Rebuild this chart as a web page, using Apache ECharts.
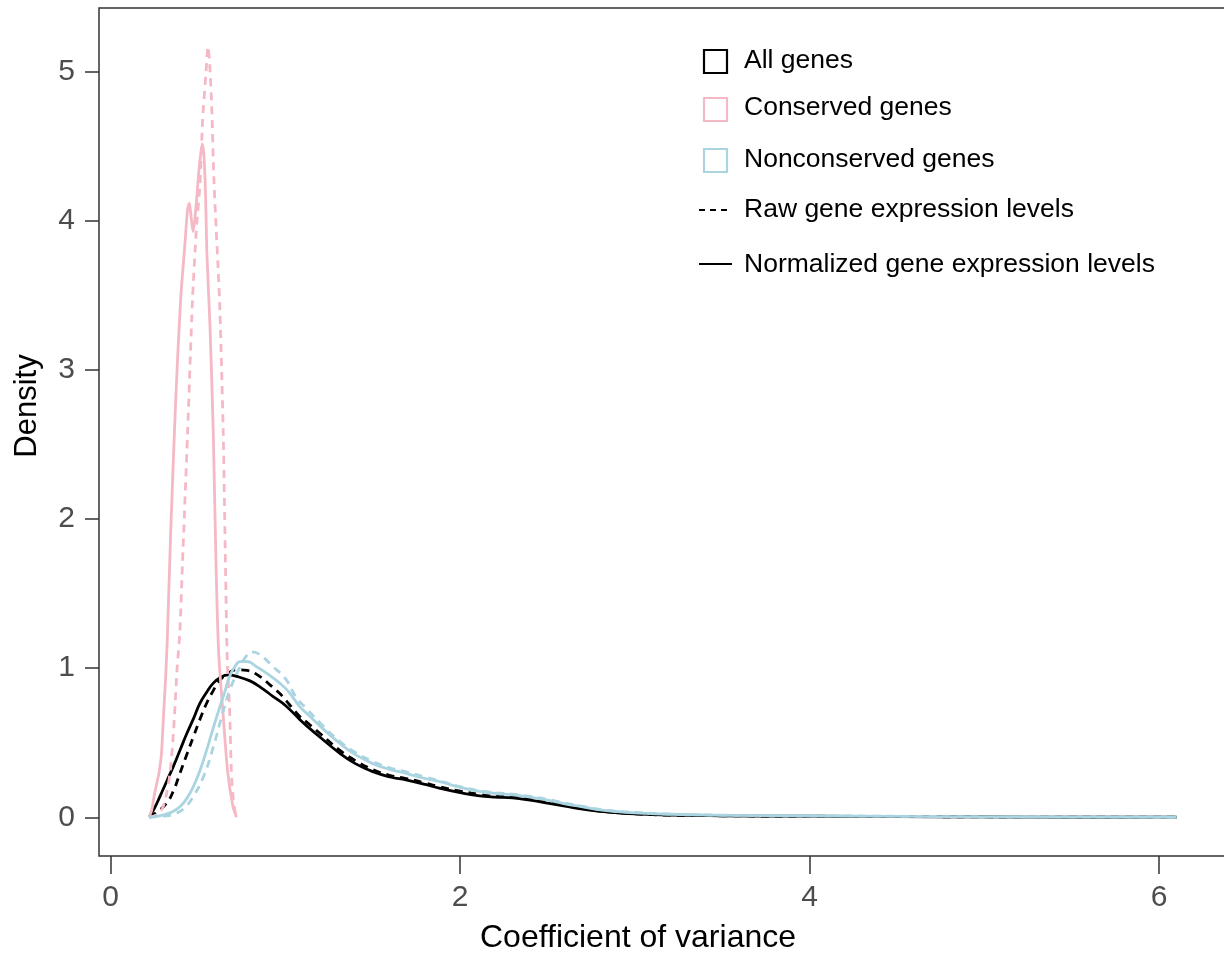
<!DOCTYPE html>
<html>
<head>
<meta charset="utf-8">
<title>Density of coefficient of variance</title>
<script src="https://cdn.jsdelivr.net/npm/echarts@6/dist/echarts.min.js"></script>
<style>
  html, body { margin: 0; padding: 0; background: #ffffff; }
  #chart { width: 1224px; height: 956px; }
</style>
</head>
<body>
<div id="chart"></div>
<script>
// Density curves of the coefficient of variance, as [CV, density] pairs.
const allNormalized = [
  [0.22,0],[0.25,0.06],[0.282,0.14],[0.32,0.24],[0.358,0.34],[0.40,0.46],[0.435,0.56],
  [0.475,0.665],[0.511,0.765],[0.55,0.84],[0.587,0.90],[0.63,0.94],[0.673,0.955],
  [0.72,0.945],[0.797,0.915],[0.86,0.87],[0.93,0.81],[1.0,0.75],[1.083,0.655],[1.12,0.615],
  [1.2,0.535],[1.31,0.43],[1.4,0.36],[1.5,0.306],[1.6,0.27],[1.69,0.25],[1.8,0.22],
  [1.88,0.195],[2.0,0.165],[2.1,0.145],[2.2,0.135],[2.3,0.13],[2.4,0.115],[2.5,0.095],
  [2.6,0.075],[2.7,0.055],[2.8,0.04],[2.9,0.03],[3.0,0.022],[3.2,0.014],[3.5,0.01],
  [4.0,0.007],[4.5,0.005],[5.0,0.002],[5.5,0],[6.1,0]
];
const allRaw = [
  [0.22,0],[0.26,0.03],[0.32,0.094],[0.36,0.18],[0.396,0.295],[0.435,0.42],[0.473,0.54],
  [0.51,0.655],[0.549,0.765],[0.587,0.85],[0.625,0.92],[0.67,0.965],[0.72,0.99],
  [0.78,0.985],[0.854,0.944],[0.91,0.89],[0.968,0.83],[1.02,0.76],[1.083,0.675],[1.12,0.64],
  [1.2,0.56],[1.31,0.45],[1.4,0.38],[1.5,0.32],[1.6,0.28],[1.69,0.26],[1.8,0.23],
  [1.88,0.205],[2.0,0.175],[2.1,0.155],[2.2,0.14],[2.3,0.135],[2.4,0.12],[2.5,0.1],
  [2.6,0.08],[2.7,0.06],[2.8,0.042],[2.9,0.03],[3.0,0.022],[3.2,0.014],[3.5,0.01],
  [4.0,0.007],[4.5,0.005],[5.0,0.002],[5.5,0],[6.1,0]
];
const conservedNormalized = [
  [0.22,0],[0.235,0.05],[0.248,0.14],[0.262,0.22],[0.276,0.295],[0.29,0.42],[0.305,0.742],
  [0.315,0.95],[0.324,1.2],[0.343,1.9],[0.372,2.8],[0.4,3.47],[0.425,3.85],[0.44,4.08],
  [0.45,4.12],[0.458,4.05],[0.471,3.93],[0.49,4.12],[0.505,4.34],[0.524,4.52],[0.534,4.43],
  [0.543,4.17],[0.55,3.8],[0.568,3.3],[0.587,2.58],[0.603,1.68],[0.618,1.1],[0.64,0.74],
  [0.67,0.3],[0.70,0.07],[0.72,0]
];
const conservedRaw = [
  [0.22,0],[0.27,0.02],[0.30,0.07],[0.32,0.16],[0.34,0.3],[0.355,0.5],[0.368,0.742],
  [0.38,1.0],[0.396,1.25],[0.41,1.68],[0.44,2.58],[0.468,3.47],[0.49,3.94],[0.511,4.25],
  [0.526,4.68],[0.545,4.99],[0.557,5.17],[0.566,5.06],[0.578,4.77],[0.59,4.3],[0.604,3.94],
  [0.614,3.70],[0.625,3.4],[0.644,2.58],[0.657,1.68],[0.667,1.05],[0.68,0.742],[0.69,0.32],
  [0.70,0.14],[0.71,0.05],[0.72,0]
];
const nonconservedNormalized = [
  [0.22,0],[0.3,0.015],[0.35,0.035],[0.396,0.07],[0.435,0.125],[0.473,0.205],[0.51,0.31],
  [0.549,0.45],[0.587,0.6],[0.625,0.742],[0.655,0.85],[0.68,0.944],[0.71,1.01],[0.74,1.044],
  [0.78,1.045],[0.835,1.01],[0.9,0.96],[0.968,0.9],[1.02,0.84],[1.083,0.74],[1.12,0.70],
  [1.2,0.61],[1.31,0.497],[1.4,0.42],[1.5,0.36],[1.6,0.32],[1.69,0.295],[1.8,0.26],
  [1.88,0.24],[2.0,0.2],[2.1,0.175],[2.2,0.16],[2.3,0.15],[2.4,0.135],[2.5,0.115],
  [2.6,0.09],[2.7,0.07],[2.8,0.05],[2.9,0.038],[3.0,0.03],[3.2,0.02],[3.5,0.013],
  [4.0,0.009],[4.5,0.006],[5.0,0.003],[5.5,0.001],[6.1,0]
];
const nonconservedRaw = [
  [0.22,0],[0.3,0.008],[0.36,0.02],[0.42,0.06],[0.473,0.14],[0.53,0.27],[0.587,0.47],
  [0.635,0.675],[0.682,0.854],[0.74,1.01],[0.775,1.08],[0.807,1.11],[0.85,1.095],
  [0.93,1.01],[1.0,0.93],[1.064,0.80],[1.12,0.73],[1.2,0.63],[1.31,0.51],[1.4,0.435],
  [1.5,0.375],[1.6,0.33],[1.69,0.305],[1.8,0.27],[1.88,0.245],[2.0,0.205],[2.1,0.18],
  [2.2,0.165],[2.3,0.155],[2.4,0.14],[2.5,0.12],[2.6,0.095],[2.7,0.073],[2.8,0.053],
  [2.9,0.04],[3.0,0.032],[3.2,0.021],[3.5,0.014],[4.0,0.01],[4.5,0.007],[5.0,0.003],
  [5.5,0.001],[6.1,0]
];

const xTicks = [0, 2, 4, 6];
const yTicks = [0, 1, 2, 3, 4, 5];

const groupNames = ['All genes', 'Conserved genes', 'Nonconserved genes'];
const typeNames = ['Raw gene expression levels', 'Normalized gene expression levels'];

const COLORS = { all: '#000000', conserved: '#f5b9c5', nonconserved: '#a9d4e0' };
const FONT = '"Liberation Sans", Arial, Helvetica, sans-serif';
const DASH = [8, 6];

function curve(name, data, color, dashed, smooth) {
  return {
    name: name,
    type: 'line',
    data: data,
    showSymbol: false,
    symbol: 'none',
    smooth: smooth,
    lineStyle: { color: color, width: 2.8, type: dashed ? DASH : 'solid', cap: 'butt', join: 'round' },
    emphasis: { disabled: true },
    z: 2
  };
}

const chart = echarts.init(document.getElementById('chart'), null, { renderer: 'canvas' });

// Legend: colour keys (hollow squares) and line-type keys (dashed / solid)
const legendGraphics = [];
const legendColors = [COLORS.all, COLORS.conserved, COLORS.nonconserved];
const squareTops = [50, 98, 149];
const textRows = [61, 108, 160, 210, 265];
groupNames.forEach((label, i) => {
  legendGraphics.push({
    type: 'rect', x: 704, y: squareTops[i],
    shape: { x: 0, y: 0, width: 23, height: 23 },
    style: { fill: 'none', stroke: legendColors[i], lineWidth: 2.2 }
  });
  legendGraphics.push({
    type: 'text', x: 744, y: textRows[i],
    style: { text: label, font: '26.5px ' + FONT, fill: '#000', verticalAlign: 'middle', align: 'left' }
  });
});
const lineRows = [210, 264];
typeNames.forEach((label, i) => {
  legendGraphics.push({
    type: 'line',
    shape: { x1: 699, y1: lineRows[i], x2: 732, y2: lineRows[i] },
    style: { stroke: '#000', lineWidth: 2.2, lineDash: i === 0 ? [6, 5] : null }
  });
  legendGraphics.push({
    type: 'text', x: 744, y: textRows[3 + i],
    style: { text: label, font: '26.5px ' + FONT, fill: '#000', verticalAlign: 'middle', align: 'left' }
  });
});

chart.setOption({
  animation: false,
  backgroundColor: '#ffffff',
  grid: {
    left: 99, top: 8, width: 1130, height: 848,
    outerBoundsMode: 'none',
    containLabel: false,
    show: true, borderColor: '#333333', borderWidth: 1.5, backgroundColor: 'transparent'
  },
  xAxis: {
    type: 'value', min: -0.067, max: 6.4,
    name: 'Coefficient of variance',
    nameLocation: 'middle', nameGap: 66,
    nameTextStyle: { fontFamily: FONT, fontSize: 32, color: '#000', padding: [0, 52, 0, 0] },
    axisLine: { show: false, onZero: false },
    axisTick: { show: true, length: 18, customValues: xTicks, lineStyle: { color: '#333333', width: 1.5 } },
    axisLabel: { customValues: xTicks, fontFamily: FONT, fontSize: 30, color: '#4d4d4d', margin: 27 },
    splitLine: { show: false }
  },
  yAxis: {
    type: 'value', min: -0.26, max: 5.43,
    name: 'Density',
    nameLocation: 'middle', nameGap: 56,
    nameTextStyle: { fontFamily: FONT, fontSize: 31, color: '#000', padding: [0, 0, 0, 52] },
    axisLine: { show: false, onZero: false },
    axisTick: { show: true, length: 14, customValues: yTicks, lineStyle: { color: '#333333', width: 1.5 } },
    axisLabel: { customValues: yTicks, fontFamily: FONT, fontSize: 30, color: '#4d4d4d', margin: 24 },
    splitLine: { show: false }
  },
  series: [
    curve('All genes · normalized', allNormalized, COLORS.all, false, 0.45),
    curve('All genes · raw', allRaw, COLORS.all, true, 0.45),
    curve('Conserved genes · normalized', conservedNormalized, COLORS.conserved, false, 0.25),
    curve('Conserved genes · raw', conservedRaw, COLORS.conserved, true, 0.25),
    curve('Nonconserved genes · raw', nonconservedRaw, COLORS.nonconserved, true, 0.45),
    curve('Nonconserved genes · normalized', nonconservedNormalized, COLORS.nonconserved, false, 0.45)
  ],
  graphic: legendGraphics
});
</script>
</body>
</html>
